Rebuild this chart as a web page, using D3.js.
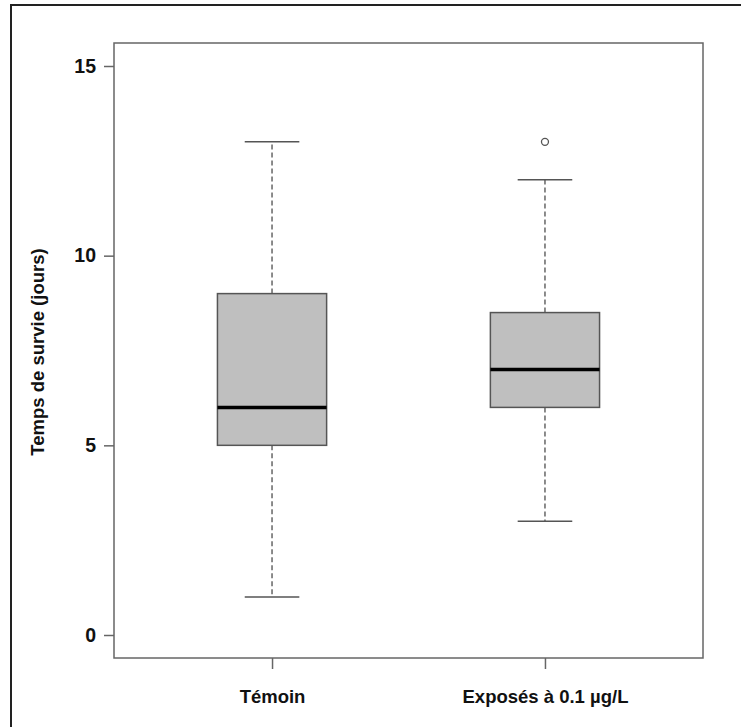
<!DOCTYPE html>
<html>
<head>
<meta charset="utf-8">
<script src="https://cdn.jsdelivr.net/npm/d3@7"></script>
<style>
  html, body { margin: 0; padding: 0; background: #fff; }
  svg { display: block; }
  text { font-family: "Liberation Sans", Arial, sans-serif; font-weight: bold; fill: #111; }
</style>
</head>
<body>
<svg id="chart" width="741" height="727"></svg>
<script>
// ---- data ----
const categories = ["Témoin", "Exposés à 0.1 µg/L"];
const whiskerLow = [1, 3];
const q1 = [5, 6];
const medians = [6, 7];
const q3 = [9, 8.5];
const whiskerHigh = [13, 12];
const outliers = [[], [13]];
const yTicks = [0, 5, 10, 15];
const yTitle = "Temps de survie (jours)";

// ---- layout ----
const svg = d3.select("#chart");
const plot = { left: 114, right: 703, top: 43, bottom: 658 };

// outer frame (extends beyond the canvas on right/bottom)
svg.append("rect")
  .attr("x", 11).attr("y", 5)
  .attr("width", 760).attr("height", 760)
  .attr("fill", "none").attr("stroke", "#222").attr("stroke-width", 2);

const y = d3.scaleLinear().domain([0, 15]).range([635, 66]);
const x = d3.scalePoint().domain(categories).range([plot.left, plot.right]).padding(0.579);
const boxW = x.step() * 0.4;
const capW = boxW / 2;

// plot box
svg.append("rect")
  .attr("x", plot.left).attr("y", plot.top)
  .attr("width", plot.right - plot.left).attr("height", plot.bottom - plot.top)
  .attr("fill", "none").attr("stroke", "#666").attr("stroke-width", 1.5);

// y axis
const yAxis = d3.axisLeft(y).tickValues(yTicks).tickSize(10).tickPadding(8).tickFormat(d3.format("d"));
const yg = svg.append("g").attr("transform", `translate(${plot.left},0)`).call(yAxis);
yg.select(".domain").remove();
yg.selectAll(".tick line").attr("stroke", "#666").attr("stroke-width", 1.5);
yg.selectAll(".tick text").style("font-size", "19.5px").attr("fill", "#111")
  .style("font-family", "'Liberation Sans', Arial, sans-serif").style("font-weight", "bold");

// x axis
const xAxis = d3.axisBottom(x).tickSize(11).tickPadding(21);
const xg = svg.append("g").attr("transform", `translate(0,${plot.bottom})`).call(xAxis);
xg.select(".domain").remove();
xg.selectAll(".tick line").attr("stroke", "#666").attr("stroke-width", 1.5);
xg.selectAll(".tick text").style("font-size", "18.5px").attr("fill", "#111")
  .style("font-family", "'Liberation Sans', Arial, sans-serif").style("font-weight", "bold");

// y title
svg.append("text")
  .attr("transform", `translate(44,352) rotate(-90)`)
  .attr("text-anchor", "middle")
  .style("font-size", "18.5px")
  .text(yTitle);

// boxes
const g = svg.append("g");
categories.forEach((c, i) => {
  const cx = x(c);
  // whiskers (dashed)
  g.append("line").attr("x1", cx).attr("x2", cx).attr("y1", y(q3[i])).attr("y2", y(whiskerHigh[i]))
    .attr("stroke", "#666").attr("stroke-width", 1.5).attr("stroke-dasharray", "5,3");
  g.append("line").attr("x1", cx).attr("x2", cx).attr("y1", y(q1[i])).attr("y2", y(whiskerLow[i]))
    .attr("stroke", "#666").attr("stroke-width", 1.5).attr("stroke-dasharray", "5,3");
  // caps
  [whiskerHigh[i], whiskerLow[i]].forEach(v => {
    g.append("line").attr("x1", cx - capW / 2).attr("x2", cx + capW / 2).attr("y1", y(v)).attr("y2", y(v))
      .attr("stroke", "#555").attr("stroke-width", 1.5);
  });
  // box
  g.append("rect").attr("x", cx - boxW / 2).attr("y", y(q3[i]))
    .attr("width", boxW).attr("height", y(q1[i]) - y(q3[i]))
    .attr("fill", "#bfbfbf").attr("stroke", "#555").attr("stroke-width", 1.5);
  // median
  g.append("line").attr("x1", cx - boxW / 2).attr("x2", cx + boxW / 2)
    .attr("y1", y(medians[i])).attr("y2", y(medians[i]))
    .attr("stroke", "#000").attr("stroke-width", 3.5);
  // outliers
  outliers[i].forEach(v => {
    g.append("circle").attr("cx", cx).attr("cy", y(v)).attr("r", 3.5)
      .attr("fill", "none").attr("stroke", "#555").attr("stroke-width", 1.3);
  });
});
</script>
</body>
</html>
